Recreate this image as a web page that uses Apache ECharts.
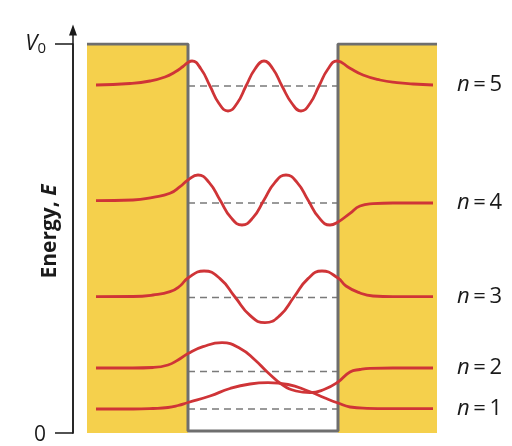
<!DOCTYPE html>
<html>
<head>
<meta charset="utf-8">
<script src="https://cdn.jsdelivr.net/npm/echarts@6/dist/echarts.min.js"></script>
<style>html,body{margin:0;padding:0;background:#fff}#c{width:512px;height:446px}</style>
</head>
<body>
<div id="c"></div>
<script>
// Units: x = position (well walls at 0 and 150), y = energy (V0 = 389)
const V0 = 389;
const axisTop = 403;
const wellLeft = 0, wellRight = 150;
const regionMin = -101, regionMax = 249;
const stateNames = ['1', '2', '3', '4', '5'];
const levels = [24, 61.5, 135.5, 230, 347];

const psi1 = [[-92,24],[-55,24],[-35,24.5],[-20,25.5],[-10,27.5],[0,30.5],[22,37],[42,44.5],[62,49],[80,50.3],[100,48.5],[120,42],[137,35],[150,30],[162,26],[179,24.7],[200,24.4],[245,24.4]];
const psi2 = [[-92,65],[-55,65],[-35,65.5],[-20,68],[-10,73],[0,79.5],[15,86.3],[34,90.3],[53,84],[67,73],[79,61.3],[94,48.5],[108,42],[122,40.3],[136,43.5],[150,51],[162,61],[172,63.5],[182,64.7],[205,65],[245,65]];
const psi3 = [[-92,136.3],[-55,136.5],[-35,138],[-18,141.3],[-8,147],[0,155],[16,162],[32,154.4],[47,136],[62,117.6],[77,110.3],[92,117.6],[106,136],[120,154.4],[134,162],[150,155],[158,147],[172,140],[185,137],[205,136.3],[245,136.3]];
const psi4 = [[-92,232.3],[-55,233],[-35,235.7],[-18,239.7],[-8,246.3],[0,253],[10,258],[21,250.7],[32,233],[43,215.3],[54,208],[65,215.3],[76,233],[87,250.7],[98,258],[109,250.7],[120,233],[131,215.3],[142,208],[150,211],[162,219.7],[172,227],[185,229.3],[205,230],[245,230]];
const psi5 = [[-92,348],[-58,349.5],[-38,352],[-23,356],[-13,361],[-5,366.5],[0,370.5],[4,372],[13,364],[22,347],[31,329.5],[40,322],[49,329.5],[58,347],[67,364],[76,372],[85,364],[94,347],[104,329.5],[113,322],[122,329.5],[131,347],[140,364],[149,372],[162,364.7],[175,358],[192,353],[209,350.3],[225,349],[245,348]];
const psis = [psi1, psi2, psi3, psi4, psi5];

const wellX = [regionMin, wellLeft, wellLeft, wellRight, wellRight, regionMax];
const wellY = [V0, V0, 2, 2, V0, V0];

const FONT = 'Open Sans';
const RED = '#cf3437';
const INK = '#1a1a1a';

const series = [];
series.push({
  type: 'line', data: wellX.map((x, i) => [x, wellY[i]]), symbol: 'none',
  lineStyle: { color: '#6e6e6e', width: 3 }, z: 3,
  markArea: {
    silent: true, itemStyle: { color: '#f5d04c' },
    data: [
      [{ xAxis: regionMin, yAxis: 0 }, { xAxis: wellLeft, yAxis: V0 }],
      [{ xAxis: wellRight, yAxis: 0 }, { xAxis: regionMax, yAxis: V0 }]
    ]
  }
});
levels.forEach(lv => {
  series.push({
    type: 'line', data: [[wellLeft, lv], [wellRight, lv]], symbol: 'none',
    lineStyle: { color: '#7a7a7a', width: 1.5, type: [7, 5] }, z: 2
  });
});
psis.forEach((p, i) => {
  series.push({
    type: 'line', data: p, symbol: 'none', smooth: 0.5, z: 4,
    lineStyle: { color: RED, width: 2.8 },
    endLabel: {
      show: true, distance: 24, formatter: '{i|n}{r|\u2009=\u2009' + stateNames[i] + '}',
      rich: {
        i: { fontFamily: FONT, fontStyle: 'italic', fontSize: 22, color: INK },
        r: { fontFamily: FONT, fontSize: 22, color: INK }
      }
    }
  });
});

const chart = echarts.init(document.getElementById('c'), null, { renderer: 'canvas' });
chart.setOption({
  animation: false,
  backgroundColor: '#fff',
  grid: [
    { left: 87, right: 75, top: 44, bottom: 13 },
    { left: 87, right: 75, top: 30, bottom: 13 }
  ],
  xAxis: [
    { gridIndex: 0, type: 'value', min: regionMin, max: regionMax, show: false },
    { gridIndex: 1, type: 'value', min: 0, max: 1, show: false }
  ],
  yAxis: [
    {
      gridIndex: 0, type: 'value', min: 0, max: V0, interval: V0, offset: 14,
      axisLine: { show: true, onZero: false, lineStyle: { color: INK, width: 1.5 } },
      axisTick: { show: true, length: 18, lineStyle: { color: INK, width: 1.5 } },
      axisLabel: {
        margin: 27,
        formatter: v => v === V0 ? '{v|V}{s|0}' : '{z|0}',
        rich: {
          v: { fontFamily: FONT, fontStyle: 'italic', fontSize: 22, color: INK },
          s: { fontFamily: FONT, fontSize: 15, color: INK, padding: [10, 0, 0, 0] },
          z: { fontFamily: FONT, fontSize: 21, color: INK, padding: [4, 0, 0, 0] }
        }
      },
      splitLine: { show: false }
    },
    {
      gridIndex: 1, type: 'value', min: 0, max: axisTop, offset: 14,
      name: '{a|Energy, }{b|E}', nameLocation: 'middle', nameGap: 12, nameRotate: 90,
      nameMoveOverlap: false,
      nameTextStyle: {
        fontFamily: FONT, fontWeight: 'bold', fontSize: 21, color: INK,
        rich: {
          a: { fontFamily: FONT, fontWeight: 'bold', fontSize: 21, color: INK },
          b: { fontFamily: FONT, fontWeight: 'bold', fontStyle: 'italic', fontSize: 21, color: INK }
        }
      },
      axisLine: { show: true, onZero: false, lineStyle: { color: INK, width: 1.5 }, symbol: ['none', 'triangle'], symbolSize: [8, 11] },
      axisTick: { show: false },
      axisLabel: { show: false },
      splitLine: { show: false }
    }
  ],
  series: series
});
</script>
</body>
</html>
